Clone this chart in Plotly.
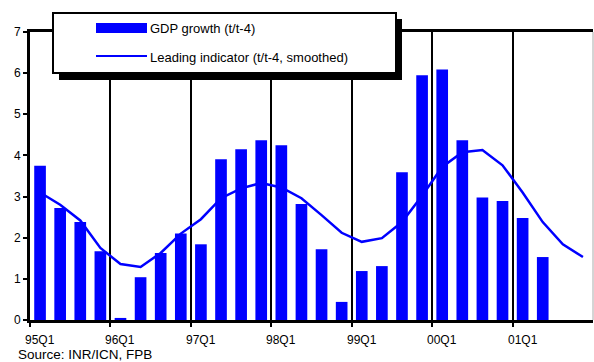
import plotly.graph_objects as go

# Quarterly series, 95Q1 .. 01Q4
quarters = [f"{y:02d}Q{q}" for y in (95, 96, 97, 98, 99, 0, 1) for q in (1, 2, 3, 4)]

gdp_growth = [3.75, 2.72, 2.38, 1.67, 0.05, 1.04, 1.63, 2.10,
              1.84, 3.91, 4.15, 4.37, 4.25, 2.82, 1.72, 0.44,
              1.19, 1.31, 3.59, 5.95, 6.09, 4.37, 2.98, 2.89,
              2.48, 1.53]

leading_indicator = [3.10, 2.80, 2.42, 1.75, 1.36, 1.29, 1.63, 2.10,
                     2.45, 2.96, 3.20, 3.33, 3.22, 2.96, 2.55, 2.12,
                     1.90, 1.99, 2.38, 3.02, 3.72, 4.08, 4.13, 3.76,
                     3.10, 2.38, 1.84, 1.53]

year_labels = ["95Q1", "96Q1", "97Q1", "98Q1", "99Q1", "00Q1", "01Q1"]
y_ticks = [0, 1, 2, 3, 4, 5, 6, 7]

series_names = ["GDP growth (t/t-4)", "Leading indicator (t/t-4, smoothed)"]
source_note = "Source: INR/ICN, FPB"

BLUE = "#0000FF"
FONT = "Liberation Sans, Arial, sans-serif"

# plot-area geometry in pixels (used to place the boxed key)
W, H = 594, 362
L, R, T, B = 30, 1, 32, 42
PW, PH = W - L - R, H - T - B


def px(x):
    return (x - L) / PW


def py(y):
    return (H - B - y) / PH


x_bar = list(range(len(gdp_growth)))
x_line = list(range(len(leading_indicator)))
label_pos = [quarters.index(q) for q in year_labels]
year_bounds = [p - 0.5 for p in label_pos]

fig = go.Figure()
fig.add_trace(go.Bar(x=x_bar, y=gdp_growth, name=series_names[0],
                     marker=dict(color=BLUE, line=dict(width=0)), width=0.58,
                     showlegend=False))
fig.add_trace(go.Scatter(x=x_line, y=leading_indicator, name=series_names[1],
                         mode="lines", line=dict(color=BLUE, width=2.5),
                         showlegend=False))

shapes = [
    # right frame edge
    dict(type="line", xref="paper", yref="paper", x0=1, x1=1, y0=0, y1=1,
         line=dict(color="#aaaaaa", width=1)),
    # key: shadow, box, swatches
    dict(type="rect", xref="paper", yref="paper", x0=px(59), x1=px(402),
         y0=py(80), y1=py(19), fillcolor="black", line=dict(width=0), layer="above"),
    dict(type="rect", xref="paper", yref="paper", x0=px(53), x1=px(396),
         y0=py(73), y1=py(13), fillcolor="white", line=dict(color="black", width=2),
         layer="above"),
    dict(type="rect", xref="paper", yref="paper", x0=px(96), x1=px(147),
         y0=py(33), y1=py(23), fillcolor=BLUE, line=dict(width=0), layer="above"),
    dict(type="line", xref="paper", yref="paper", x0=px(96), x1=px(147),
         y0=py(56), y1=py(56), line=dict(color=BLUE, width=2), layer="above"),
]

annotations = [
    dict(text=series_names[0], xref="paper", yref="paper", x=px(148), y=py(28),
         xanchor="left", yanchor="middle", showarrow=False,
         font=dict(family=FONT, size=13, color="black")),
    dict(text=series_names[1], xref="paper", yref="paper", x=px(148), y=py(57),
         xanchor="left", yanchor="middle", showarrow=False,
         font=dict(family=FONT, size=13, color="black")),
    dict(text=source_note, xref="paper", yref="paper", x=px(16), y=py(345),
         xanchor="left", yanchor="top", showarrow=False,
         font=dict(family=FONT, size=13.5, color="black")),
]
for pos, lab in zip(label_pos, year_labels):
    annotations.append(dict(text=lab, x=pos, xref="x", yref="paper", y=py(340),
                            xanchor="center", yanchor="middle", showarrow=False,
                            font=dict(family=FONT, size=12, color="black")))

fig.update_layout(
    width=W, height=H,
    margin=dict(l=L, r=R, t=T, b=B),
    paper_bgcolor="white", plot_bgcolor="white",
    bargap=0.4,
    xaxis=dict(range=[-0.5, len(quarters) - 0.5], tickvals=year_bounds,
               showticklabels=False, ticks="outside", ticklen=4, tickwidth=2,
               tickcolor="black", showgrid=True, gridcolor="black", gridwidth=2,
               showline=True, linecolor="black", linewidth=3, mirror=True,
               zeroline=False, fixedrange=True),
    yaxis=dict(range=[0, 7], tickvals=y_ticks, ticks="outside", ticklen=4,
               tickwidth=2, tickcolor="black", showgrid=False, zeroline=False,
               showline=True, linecolor="black", linewidth=3,
               tickfont=dict(family=FONT, size=12, color="black")),
    yaxis2=dict(range=[0, 7], tickvals=y_ticks, overlaying="y", side="left",
                anchor="x", ticks="inside", ticklen=4, tickwidth=2,
                tickcolor="black", showticklabels=False, showgrid=False,
                zeroline=False, showline=False),
    shapes=shapes,
    annotations=annotations,
    showlegend=False,
)

fig.write_html("out.html")
